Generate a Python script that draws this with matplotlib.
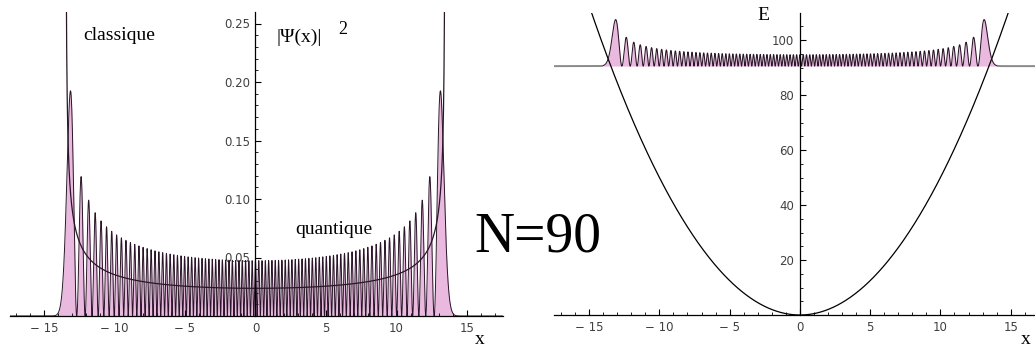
import numpy as np
import matplotlib.pyplot as plt
from matplotlib.ticker import MultipleLocator, FuncFormatter

# State shown in the picture (harmonic oscillator, hbar = m = omega = 1)
N = 90
energy = N + 0.5            # E_N = N + 1/2, the grey baseline on the right
wave_scale = 88             # how much |psi|^2 is stretched on the right panel

x_major = [-15, -10, -5, 0, 5, 10, 15]
y_major_left = [0.05, 0.10, 0.15, 0.20, 0.25]
y_major_right = [20, 40, 60, 80, 100]

x = np.linspace(-17.6, 17.6, 12000)

# normalised Hermite functions by recurrence
psi_prev = np.pi ** -0.25 * np.exp(-x ** 2 / 2)
psi = np.sqrt(2) * x * psi_prev
for n in range(1, N):
    psi_next = np.sqrt(2 / (n + 1)) * x * psi - np.sqrt(n / (n + 1)) * psi_prev
    psi_prev, psi = psi, psi_next
density = psi ** 2

# classical probability density inside the turning points
x_turn = np.sqrt(2 * energy)
xc = np.linspace(-x_turn, x_turn, 4000)[1:-1]
classical = 1 / (np.pi * np.sqrt(2 * energy - xc ** 2))

potential = x ** 2 / 2

W, H = 1035, 348
fig = plt.figure(figsize=(W / 100, H / 100), dpi=100)

line_col = '#2a1628'
fill_col = '#e9b9e0'
tick_col = '#404040'


def fmt_x(v, pos):
    v = int(round(v))
    return f'\u2212 {abs(v)}' if v < 0 else f'{v}'


def style_axes(ax):
    for s in ['top', 'right']:
        ax.spines[s].set_visible(False)
    ax.spines['left'].set_position(('data', 0))
    ax.spines['bottom'].set_position(('data', 0))
    ax.spines['left'].set_linewidth(0.9)
    ax.spines['bottom'].set_linewidth(0.9)
    ax.set_xticks(x_major)
    ax.xaxis.set_minor_locator(MultipleLocator(1))
    ax.xaxis.set_major_formatter(FuncFormatter(fmt_x))
    ax.tick_params(direction='in', length=4.5, width=0.8, labelsize=8.5,
                   labelcolor=tick_col, pad=4)
    ax.tick_params(which='minor', direction='in', length=2.5, width=0.6)
    ax.patch.set_alpha(0)


# left panel: probability densities
ax1 = fig.add_axes([10 / W, 32 / H, 493 / W, 304 / H])
ax1.fill_between(x, 0, density, color=fill_col, lw=0)
ax1.plot(x, density, color=line_col, lw=0.7)
ax1.plot(xc, classical, color=line_col, lw=0.9)
ax1.set_xlim(-17.4, 17.55)
ax1.set_ylim(0, 304 / 1170)
style_axes(ax1)
ax1.set_yticks(y_major_left)
ax1.yaxis.set_minor_locator(MultipleLocator(0.01))
ax1.yaxis.set_major_formatter(FuncFormatter(lambda v, p: f'{v:.2f}'))

# right panel: potential and shifted wave
ax2 = fig.add_axes([554 / W, 33 / H, 481 / W, 302 / H])
ax2.plot(x, potential, color='black', lw=0.9)
inside = np.abs(x) < 14.1
ax2.fill_between(x[inside], energy, energy + wave_scale * density[inside],
                 color=fill_col, lw=0)
ax2.plot(x[inside], energy + wave_scale * density[inside], color=line_col, lw=0.75)
ax2.plot(x[x <= -14.1], energy + wave_scale * density[x <= -14.1], color='#8a8a8a', lw=1.4)
ax2.plot(x[x >= 14.1], energy + wave_scale * density[x >= 14.1], color='#8a8a8a', lw=1.4)
ax2.set_xlim(-17.5, 16.73)
ax2.set_ylim(0, 302 / 2.75)
style_axes(ax2)
ax2.set_yticks(y_major_right)
ax2.yaxis.set_minor_locator(MultipleLocator(5))


def ptext(px, py, s, **kw):
    fig.text(px / W, 1 - py / H, s, family='Liberation Serif', **kw)


ptext(83, 35, 'classique', fontsize=14, va='center')
ptext(276, 37, '|\u03a8(x)|', fontsize=14, va='center')
ptext(338, 29, '2', fontsize=13, va='center')
ptext(295, 230, 'quantique', fontsize=14, va='center')
ptext(474, 238, 'N=90', fontsize=40, va='center')
ptext(480, 339, 'x', fontsize=14, va='center', ha='center')
ptext(1026, 339, 'x', fontsize=14, va='center', ha='center')
ptext(763, 16, 'E', fontsize=14, va='center', ha='center')

fig.savefig('out.png', dpi=100)
